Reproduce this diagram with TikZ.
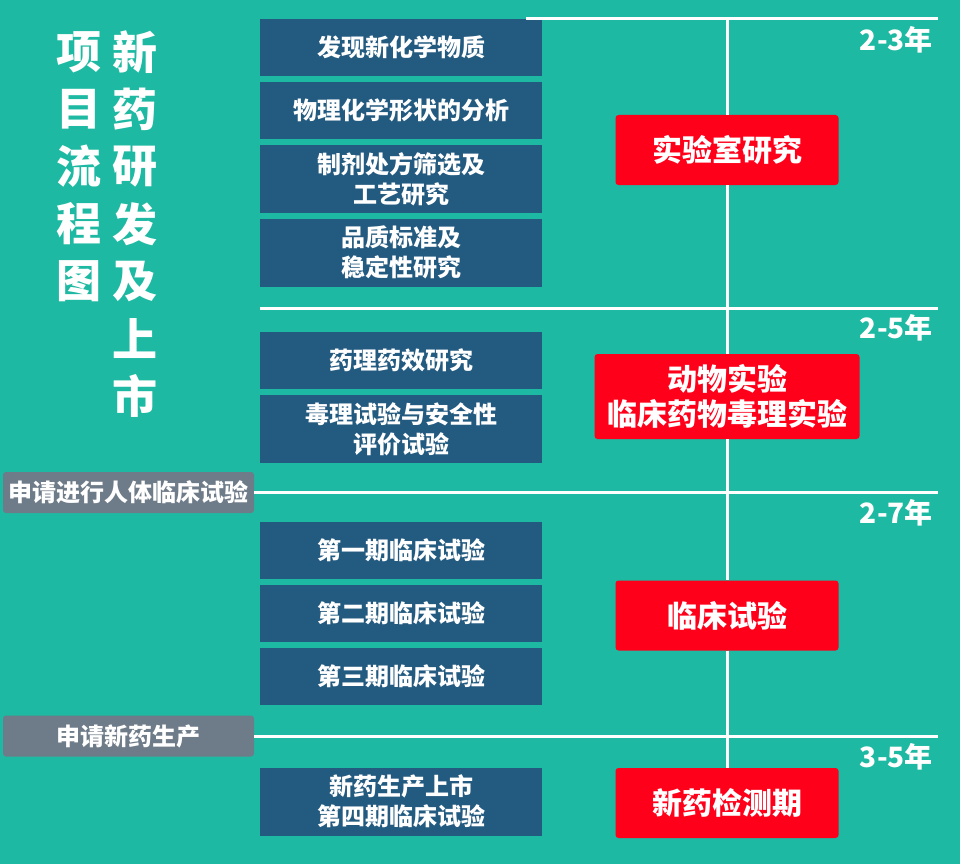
\documentclass[tikz,border=0pt]{standalone}
\usepackage{fontspec}
\setmainfont{Noto Sans CJK SC}
\usetikzlibrary{positioning}
\definecolor{bgteal}{HTML}{1EB9A2}
\definecolor{stepblue}{HTML}{235A80}
\definecolor{phasered}{HTML}{FF001B}
\definecolor{applygray}{HTML}{6E7B88}
\tikzstyle{task} = [fill=stepblue, text=white, minimum width=282pt, minimum height=57pt, align=center, inner sep=0pt, font=\bfseries\fontsize{24}{30}\selectfont]
\tikzstyle{task2} = [task, minimum height=68pt]
\tikzstyle{phase} = [fill=phasered, text=white, rounded corners=3pt, align=center, inner sep=0pt, minimum width=223pt, minimum height=70pt, font=\bfseries\fontsize{30}{35}\selectfont]
\tikzstyle{apply} = [fill=applygray, text=white, rounded corners=3pt, minimum width=251pt, minimum height=41pt, inner sep=0pt, font=\bfseries\fontsize{24}{28}\selectfont]
\tikzstyle{years} = [anchor=east, text=white, inner sep=0pt, font=\bfseries\fontsize{28}{30}\selectfont]
\tikzstyle{title} = [text=white, inner sep=0pt, font=\bfseries\fontsize{45}{50}\selectfont]
\tikzstyle{rule} = [draw=white, line width=3pt]

\begin{document}
\begin{tikzpicture}[x=1pt, y=-1pt, node distance=5.5pt]
    \fill [bgteal] (0,0) rectangle (960,864);
    \useasboundingbox (0,0) rectangle (960,864);
    % title columns
    \foreach \c [count=\i] in {项,目,流,程,图}
        \node [title] (l\i) at (79,{52+57.3*(\i-1)}) {\c};
    \foreach \c [count=\i] in {新,药,研,发,及,上,市}
        \node [title] (r\i) at (135,{52+57.3*(\i-1)}) {\c};
    % steps
    \node [task] (find) at (401,47.5) {发现新化学物质};
    \node [task, below=of find] (shape) {物理化学形状的分析};
    \node [task2, below=of shape] (recipe) {制剂处方筛选及\\工艺研究};
    \node [task2, below=of recipe] (quality) {品质标准及\\稳定性研究};
    \node [task] (pharma) at (401,360.5) {药理药效研究};
    \node [task2, below=of pharma] (tox) {毒理试验与安全性\\评价试验};
    \node [task] (ph1) at (401,550.5) {第一期临床试验};
    \node [task, below=of ph1] (ph2) {第二期临床试验};
    \node [task, below=of ph2] (ph3) {第三期临床试验};
    \node [task2] (market) at (401,801.5) {新药生产上市\\第四期临床试验};
    % phases
    \node [phase] (lab) at (727,150) {实验室研究};
    \node [phase, minimum width=265pt, minimum height=85pt] (animal) at (727,396.5) {动物实验\\临床药物毒理实验};
    \node [phase] (clinic) at (727,615.5) {临床试验};
    \node [phase] (check) at (727,803) {新药检测期};
    % applications
    \node [apply] (ask1) at (128.5,492.5) {申请进行人体临床试验};
    \node [apply] (ask2) at (128.5,736) {申请新药生产};
    % durations
    \node [years] (y1) at (933,40) {2-3年};
    \node [years] (y2) at (933,328) {2-5年};
    \node [years] (y3) at (933,513) {2-7年};
    \node [years] (y4) at (933,757) {3-5年};
    % rules
    \coordinate (topl) at (526,18.5);
    \coordinate (e1) at (938,18.5);
    \coordinate (e2) at (938,308);
    \draw [rule] (topl) -- (e1);
    \draw [rule] (e2 -| find.west) -- (e2);
    \draw [rule] (ask1.east) -- (ask1.east -| e1);
    \draw [rule] (ask2.east) -- (ask2.east -| e1);
    \draw [rule] (lab.north |- topl) -- (lab.north) (lab.south) -- (animal.north)
        (animal.south) -- (clinic.north) (clinic.south) -- (check.north);
\end{tikzpicture}
\end{document}
